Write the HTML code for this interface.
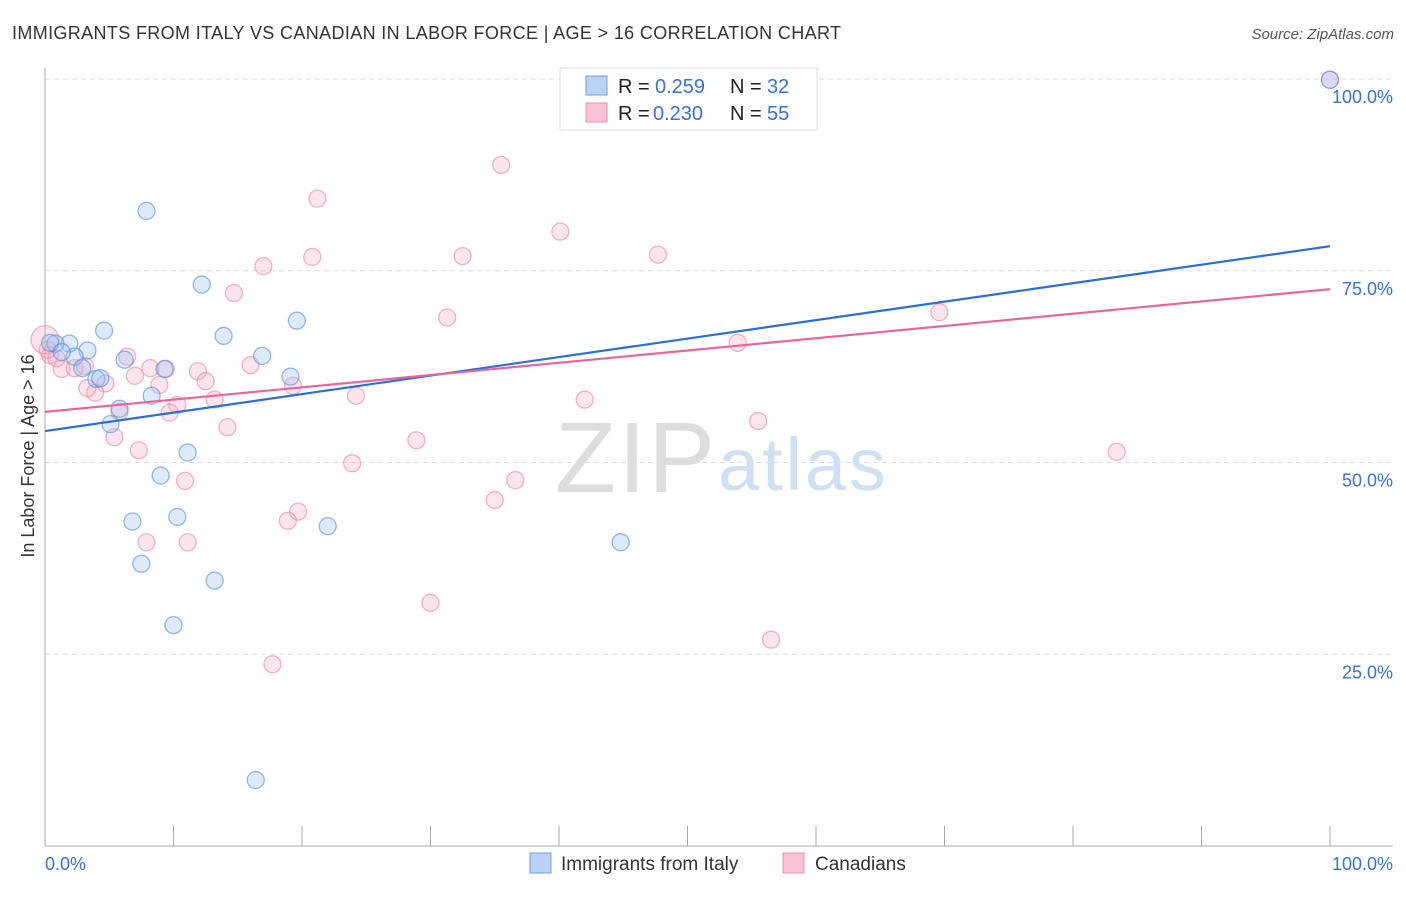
<!DOCTYPE html>
<html><head><meta charset="utf-8"><style>
body{margin:0;background:#fff;font-family:"Liberation Sans",sans-serif}
svg text{font-family:"Liberation Sans",sans-serif}
</style></head><body>
<svg width="1406" height="892" viewBox="0 0 1406 892">
<text x="12" y="39" font-size="18" fill="#333" textLength="829">IMMIGRANTS FROM ITALY VS CANADIAN IN LABOR FORCE | AGE &gt; 16 CORRELATION CHART</text>
<text x="1394" y="39" font-size="15" fill="#555" font-style="italic" text-anchor="end">Source: ZipAtlas.com</text>
<text x="555" y="492" font-size="100" fill="#ddd" textLength="160" font-family="Liberation Serif">ZIP</text>
<text x="718" y="490" font-size="74" fill="#cfe0f3" textLength="168">atlas</text>
<g id="grid"></g>
<g id="axes"></g>
<text transform="translate(34,456) rotate(-90)" font-size="18" fill="#333" text-anchor="middle">In Labor Force | Age &gt; 16</text>
<g id="marks"></g>
<g>
<rect x="560" y="68" width="257" height="62" fill="#fff" stroke="#ddd"/>
<rect x="586" y="76" width="21" height="19" fill="#b8d3f5" stroke="#6fa0e0"/>
<rect x="586" y="103" width="21" height="19" fill="#f9c3d3" stroke="#ee8fae"/>
<text x="618" y="93" font-size="20" fill="#222">R =</text><text x="655" y="93" font-size="20" fill="#3a72d0">0.259</text>
<text x="730" y="93" font-size="20" fill="#222">N =</text><text x="767" y="93" font-size="20" fill="#3a72d0">32</text>
<text x="618" y="120" font-size="20" fill="#222">R =</text><text x="653" y="120" font-size="20" fill="#3a72d0">0.230</text>
<text x="730" y="120" font-size="20" fill="#222">N =</text><text x="767" y="120" font-size="20" fill="#3a72d0">55</text>
</g>
<g>
<rect x="530" y="853" width="21" height="20" fill="#b8d3f5" stroke="#6fa0e0"/>
<text x="561" y="870" font-size="19" fill="#333">Immigrants from Italy</text>
<rect x="783" y="853" width="21" height="20" fill="#f9c3d3" stroke="#ee8fae"/>
<text x="815" y="870" font-size="19" fill="#333">Canadians</text>
</g>
</svg>
<script>
const yTicks=[25,50,75,100];
const yTickLabels=["25.0%","50.0%","75.0%","100.0%"];
const xTicks=[0,10,20,30,40,50,60,70,80,90,100];
const xEndLabels=["0.0%","100.0%"];
const blueX=[7.9,12.2,4.6,13.9,19.6,1.9,3.3,0.8,2.3,6.2,9.3,16.9,2.9,4.0,4.3,19.1,8.3,5.8,5.1,11.1,9.0,6.8,10.3,22.0,7.5,13.2,10.0,16.4,44.8,100,0.4,1.3];
const blueY=[82.8,73.2,67.2,66.5,68.5,65.5,64.6,65.5,63.8,63.4,62.2,63.9,62.3,60.9,61.0,61.2,58.7,57.0,55.0,51.3,48.3,42.3,42.9,41.7,36.8,34.6,28.8,8.6,39.6,99.9,65.6,64.4];
const pinkX=[40.9,100,35.5,21.2,40.1,32.5,20.8,47.7,17.0,14.7,31.3,69.6,53.9,6.4,16.0,0.4,1.3,2.3,3.1,11.9,8.2,9.4,7.0,12.5,4.7,8.9,3.9,3.3,19.3,13.2,24.2,10.3,5.8,9.7,5.4,14.2,42.0,55.5,28.9,7.3,23.9,83.4,10.9,36.6,35.0,19.7,18.9,7.9,11.1,30.0,56.5,17.7,0.9,0.2,0];
const pinkY=[99.9,99.9,88.8,84.4,80.1,76.9,76.8,77.1,75.6,72.1,68.9,69.6,65.6,63.8,62.7,64.0,62.2,62.3,62.6,61.9,62.3,62.2,61.3,60.6,60.3,60.1,59.1,59.7,60.0,58.2,58.7,57.5,56.6,56.5,53.3,54.6,58.2,55.4,52.9,51.6,49.9,51.4,47.6,47.7,45.1,43.6,42.4,39.6,39.6,31.7,26.9,23.7,63.6,64.7,66.0];
const blueLine=[54.1,78.2];
const pinkLine=[56.6,72.6];
const NS="http://www.w3.org/2000/svg";
const X=v=>45+v*12.85, Y=v=>846-v*7.67;
function mk(t,a,p){const e=document.createElementNS(NS,t);for(const k in a)e.setAttribute(k,a[k]);p.appendChild(e);return e;}
const grid=document.getElementById('grid'),axes=document.getElementById('axes'),marks=document.getElementById('marks');
yTicks.forEach((t,i)=>{
 const l=mk('line',{x1:45,x2:1393,y1:Y(t),y2:Y(t),stroke:'#ddd','stroke-dasharray':'5,4'},grid);
 
 
 const tx=mk('text',{x:1393,y:Y(t)+24,'font-size':18,fill:'#3a72d0','text-anchor':'end'},axes);
 tx.textContent=yTickLabels[i];
 
 
});
mk('line',{x1:45,x2:45,y1:68,y2:846,stroke:'#aaa'},axes);
mk('line',{x1:45,x2:1393,y1:846,y2:846,stroke:'#aaa'},axes);
xTicks.forEach(t=>{
 const l=mk('line',{x1:X(t),x2:X(t),y1:826,y2:846,stroke:'#aaa'},axes);
 
 
});
const xl0=mk('text',{x:45,y:870,'font-size':18,fill:'#3a72d0'},axes);xl0.textContent=xEndLabels[0];


const xl1=mk('text',{x:1393,y:870,'font-size':18,fill:'#3a72d0','text-anchor':'end'},axes);xl1.textContent=xEndLabels[1];


pinkX.forEach((x,i)=>{
 const c=mk('circle',{cx:X(x),cy:Y(pinkY[i]),r:i==pinkX.length-1?14:8.5,fill:'rgba(246,170,195,0.3)',stroke:'rgba(232,120,160,0.55)','stroke-width':1.3},marks);
 
 
});
blueX.forEach((x,i)=>{
 const c=mk('circle',{cx:X(x),cy:Y(blueY[i]),r:8.5,fill:'rgba(160,195,240,0.35)',stroke:'rgba(80,140,220,0.6)','stroke-width':1.3},marks);
 
 
});
const bl=mk('line',{x1:X(0),x2:X(100),y1:Y(blueLine[0]),y2:Y(blueLine[1]),stroke:'#2a6fd6','stroke-width':2.2},marks);


const pl=mk('line',{x1:X(0),x2:X(100),y1:Y(pinkLine[0]),y2:Y(pinkLine[1]),stroke:'#e8649a','stroke-width':2.2},marks);


</script>
</body></html>
